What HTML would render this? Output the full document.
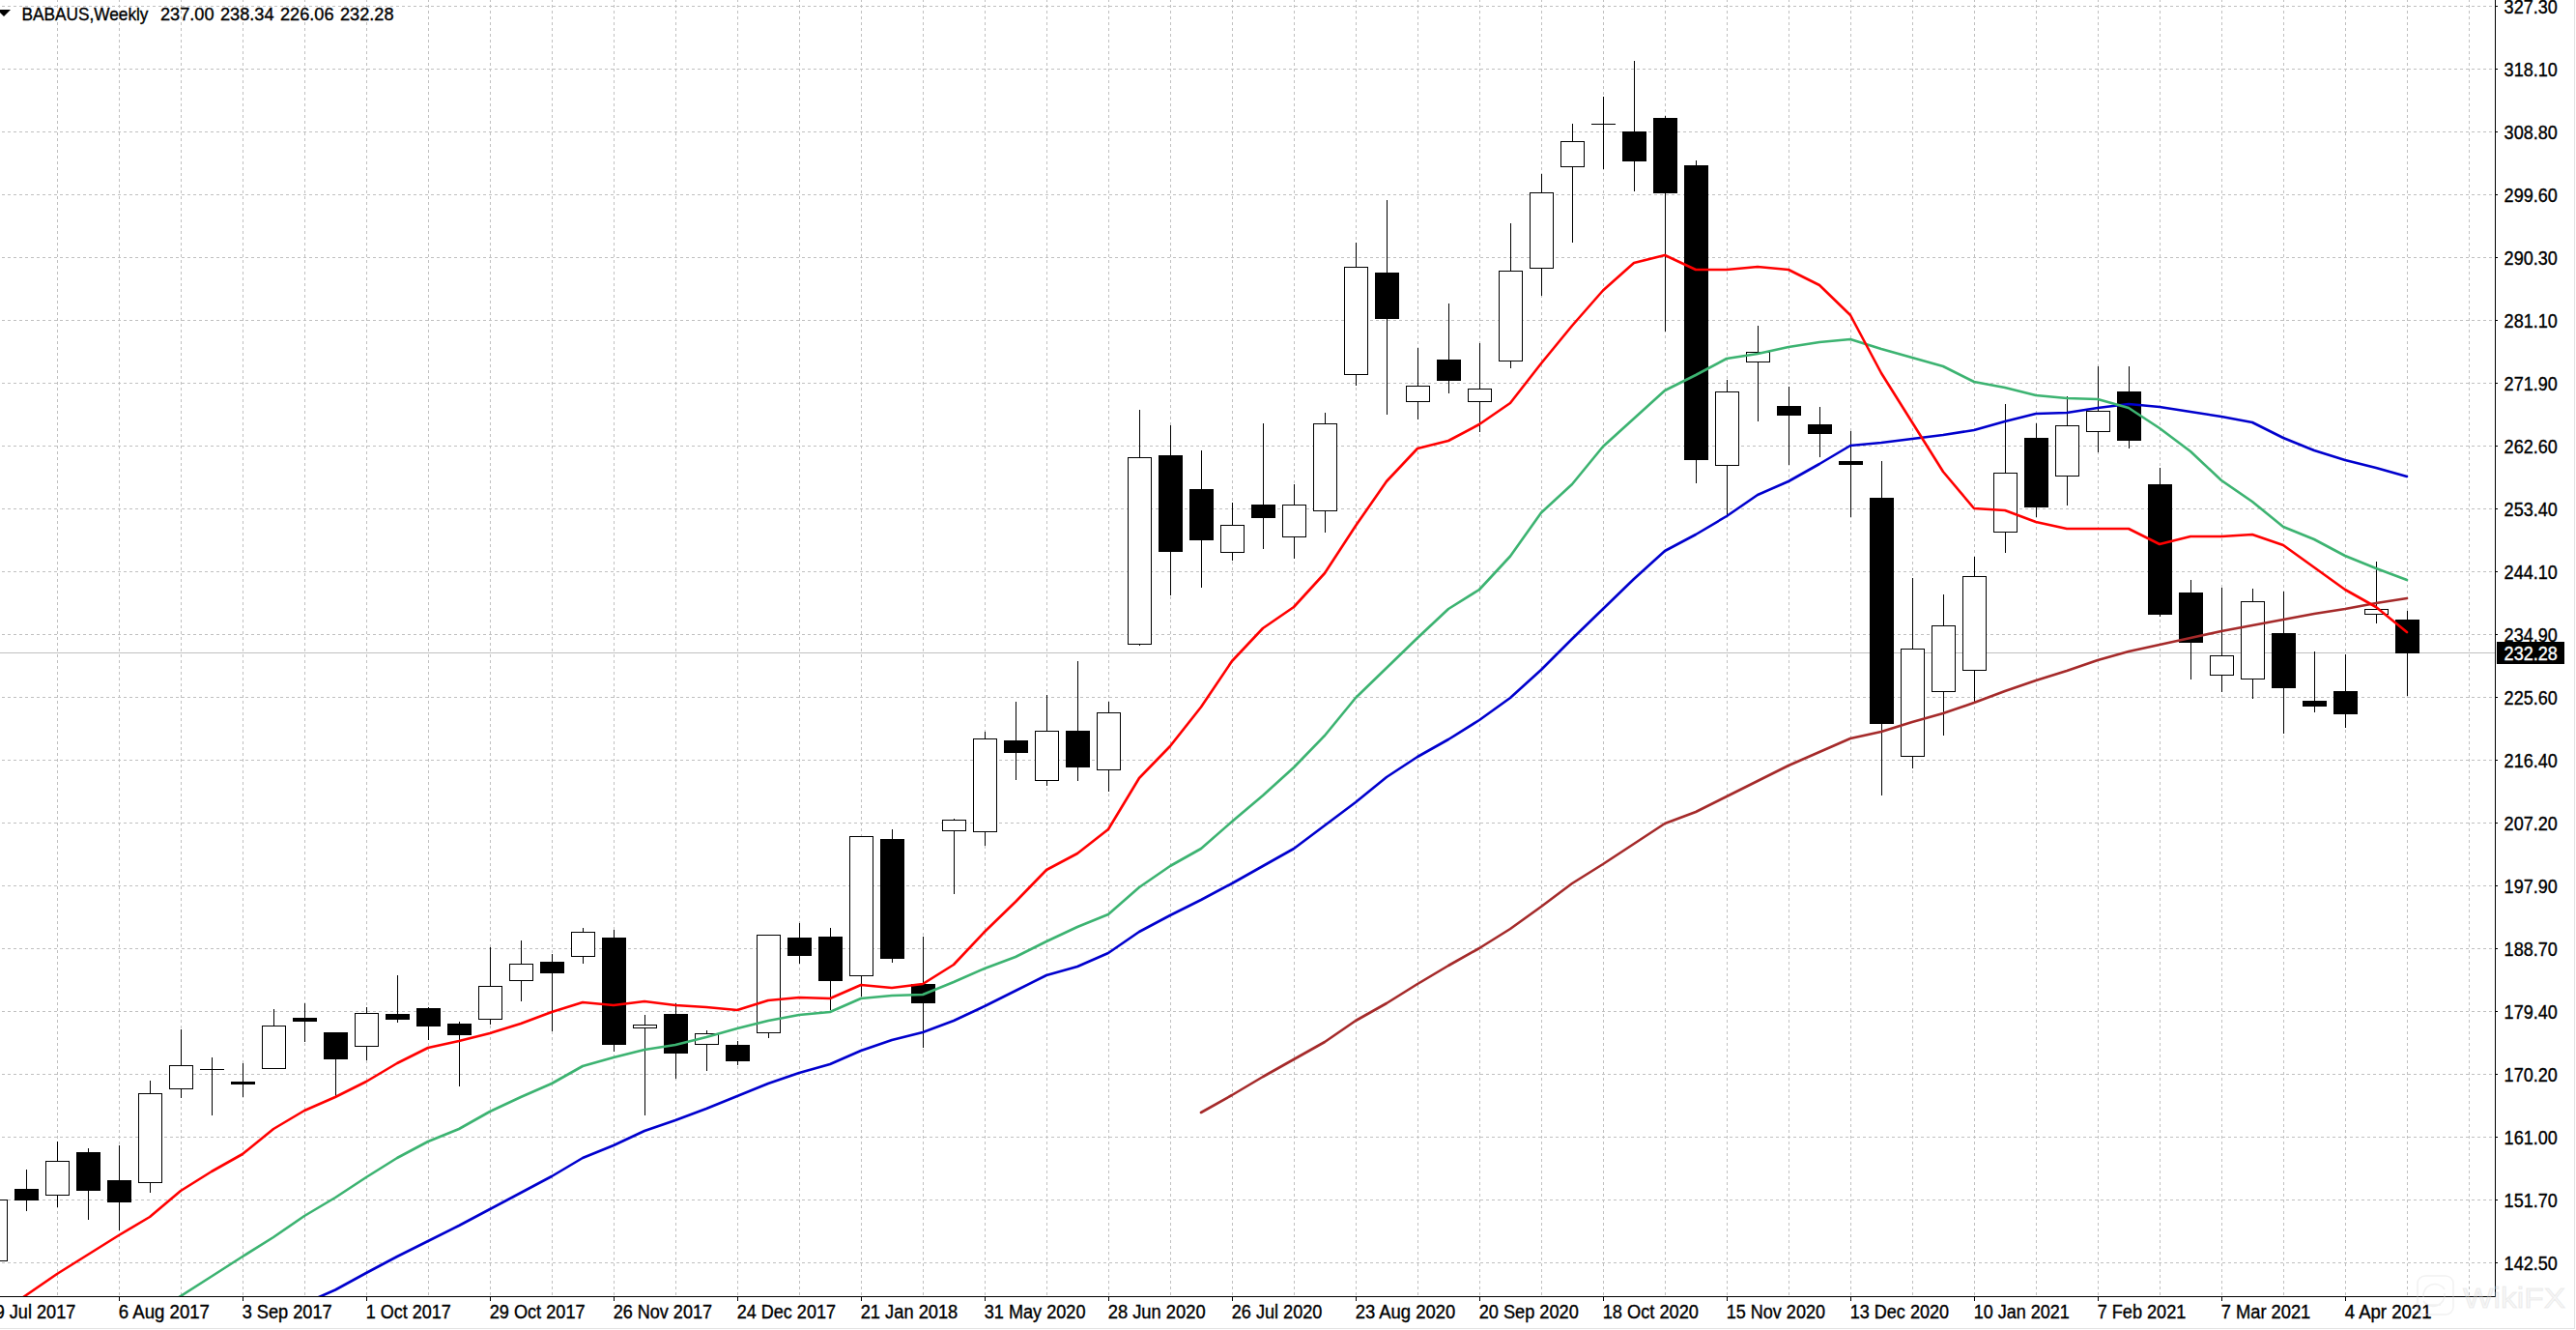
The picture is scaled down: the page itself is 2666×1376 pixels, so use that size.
<!DOCTYPE html><html><head><meta charset="utf-8"><title>BABAUS Weekly</title><style>
html,body{margin:0;padding:0;background:#fff;overflow:hidden;}
svg{display:block;}
text{font-family:"Liberation Sans", sans-serif;}
</style></head><body>
<svg width="2666" height="1376" viewBox="0 0 2666 1376">
<rect x="0" y="0" width="2666" height="1376" fill="#ffffff"/>
<path d="M59.5 -1V1341M123.5 -1V1341M187.5 -1V1341M251.5 -1V1341M315.5 -1V1341M379.5 -1V1341M443.5 -1V1341M507.5 -1V1341M571.5 -1V1341M635.5 -1V1341M699.5 -1V1341M763.5 -1V1341M827.5 -1V1341M891.5 -1V1341M955.5 -1V1341M1019.5 -1V1341M1083.5 -1V1341M1147.5 -1V1341M1211.5 -1V1341M1275.5 -1V1341M1339.5 -1V1341M1403.5 -1V1341M1467.5 -1V1341M1531.5 -1V1341M1595.5 -1V1341M1659.5 -1V1341M1723.5 -1V1341M1787.5 -1V1341M1851.5 -1V1341M1915.5 -1V1341M1979.5 -1V1341M2043.5 -1V1341M2107.5 -1V1341M2171.5 -1V1341M2235.5 -1V1341M2299.5 -1V1341M2363.5 -1V1341M2427.5 -1V1341M2491.5 -1V1341M2555.5 -1V1341" stroke="#c0c0c0" stroke-width="1" stroke-dasharray="3 3" fill="none" shape-rendering="crispEdges"/>
<path d="M2 6.5H2582M2 71.5H2582M2 136.5H2582M2 201.5H2582M2 266.5H2582M2 331.5H2582M2 396.5H2582M2 461.5H2582M2 526.5H2582M2 591.5H2582M2 656.5H2582M2 721.5H2582M2 786.5H2582M2 851.5H2582M2 916.5H2582M2 981.5H2582M2 1046.5H2582M2 1111.5H2582M2 1176.5H2582M2 1241.5H2582M2 1306.5H2582" stroke="#c0c0c0" stroke-width="1" stroke-dasharray="3 3" fill="none" shape-rendering="crispEdges"/>
<path d="M0 675.5H2582" stroke="#c0c0c0" stroke-width="1" shape-rendering="crispEdges"/>
<path d="M-4.5 1241V1305M27.5 1210V1253M59.5 1181V1249M91.5 1188V1262M123.5 1185V1273M155.5 1118V1234M187.5 1065V1136M219.5 1094V1154M251.5 1100V1135M283.5 1044V1106M315.5 1038V1078M347.5 1068V1134M379.5 1042V1097M411.5 1009V1058M443.5 1042V1076M475.5 1057V1124M507.5 980V1060M539.5 973V1036M571.5 987V1067M603.5 960V997M635.5 962V1088M667.5 1050V1154M699.5 1038V1116M731.5 1066V1108M763.5 1077V1102M795.5 967V1074M827.5 955V997M859.5 960V1045M891.5 865V1031M923.5 858V996M955.5 969V1084M987.5 847V925M1019.5 757V875M1051.5 726V807M1083.5 719V813M1115.5 684V808M1147.5 726V819M1179.5 424V668M1211.5 440V616M1243.5 466V608M1275.5 520V580M1307.5 438V568M1339.5 501V578M1371.5 427V551M1403.5 251V399M1435.5 207V429M1467.5 360V434M1499.5 314V407M1531.5 355V447M1563.5 231V381M1595.5 180V306M1627.5 128V251M1659.5 100V175M1691.5 63V198M1723.5 120V343M1755.5 166V500M1787.5 393V535M1819.5 337V436M1851.5 400V481M1883.5 421V473M1915.5 446V535M1947.5 477V823M1979.5 598V795M2011.5 615V761M2043.5 576V726M2075.5 418V572M2107.5 438V535M2139.5 410V523M2171.5 379V468M2203.5 379V464M2235.5 484V638M2267.5 600V703M2299.5 608V716M2331.5 609V723M2363.5 612V759M2395.5 674V737M2427.5 677V753M2459.5 581V645M2491.5 632V720" stroke="#000" stroke-width="1" fill="none" shape-rendering="crispEdges"/>
<g shape-rendering="crispEdges"><rect x="-16.5" y="1241.5" width="24" height="63" fill="#fff" stroke="#000" stroke-width="1"/><rect x="47.5" y="1201.5" width="24" height="35" fill="#fff" stroke="#000" stroke-width="1"/><rect x="143.5" y="1131.5" width="24" height="92" fill="#fff" stroke="#000" stroke-width="1"/><rect x="175.5" y="1102.5" width="24" height="24" fill="#fff" stroke="#000" stroke-width="1"/><path d="M207 1106.5H232" stroke="#000" stroke-width="1"/><rect x="271.5" y="1061.5" width="24" height="44" fill="#fff" stroke="#000" stroke-width="1"/><rect x="367.5" y="1048.5" width="24" height="34" fill="#fff" stroke="#000" stroke-width="1"/><rect x="495.5" y="1020.5" width="24" height="34" fill="#fff" stroke="#000" stroke-width="1"/><rect x="527.5" y="997.5" width="24" height="17" fill="#fff" stroke="#000" stroke-width="1"/><rect x="591.5" y="964.5" width="24" height="25" fill="#fff" stroke="#000" stroke-width="1"/><rect x="655.5" y="1060.5" width="24" height="3" fill="#fff" stroke="#000" stroke-width="1"/><rect x="719.5" y="1069.5" width="24" height="11" fill="#fff" stroke="#000" stroke-width="1"/><rect x="783.5" y="967.5" width="24" height="101" fill="#fff" stroke="#000" stroke-width="1"/><rect x="879.5" y="865.5" width="24" height="144" fill="#fff" stroke="#000" stroke-width="1"/><rect x="975.5" y="848.5" width="24" height="11" fill="#fff" stroke="#000" stroke-width="1"/><rect x="1007.5" y="764.5" width="24" height="96" fill="#fff" stroke="#000" stroke-width="1"/><rect x="1071.5" y="756.5" width="24" height="51" fill="#fff" stroke="#000" stroke-width="1"/><rect x="1135.5" y="737.5" width="24" height="59" fill="#fff" stroke="#000" stroke-width="1"/><rect x="1167.5" y="473.5" width="24" height="193" fill="#fff" stroke="#000" stroke-width="1"/><rect x="1263.5" y="543.5" width="24" height="28" fill="#fff" stroke="#000" stroke-width="1"/><rect x="1327.5" y="522.5" width="24" height="33" fill="#fff" stroke="#000" stroke-width="1"/><rect x="1359.5" y="438.5" width="24" height="90" fill="#fff" stroke="#000" stroke-width="1"/><rect x="1391.5" y="276.5" width="24" height="111" fill="#fff" stroke="#000" stroke-width="1"/><rect x="1455.5" y="399.5" width="24" height="16" fill="#fff" stroke="#000" stroke-width="1"/><rect x="1519.5" y="402.5" width="24" height="13" fill="#fff" stroke="#000" stroke-width="1"/><rect x="1551.5" y="280.5" width="24" height="93" fill="#fff" stroke="#000" stroke-width="1"/><rect x="1583.5" y="199.5" width="24" height="78" fill="#fff" stroke="#000" stroke-width="1"/><rect x="1615.5" y="146.5" width="24" height="26" fill="#fff" stroke="#000" stroke-width="1"/><path d="M1647 128.5H1672" stroke="#000" stroke-width="1"/><rect x="1775.5" y="405.5" width="24" height="76" fill="#fff" stroke="#000" stroke-width="1"/><rect x="1807.5" y="364.5" width="24" height="10" fill="#fff" stroke="#000" stroke-width="1"/><rect x="1967.5" y="671.5" width="24" height="111" fill="#fff" stroke="#000" stroke-width="1"/><rect x="1999.5" y="647.5" width="24" height="68" fill="#fff" stroke="#000" stroke-width="1"/><rect x="2031.5" y="596.5" width="24" height="97" fill="#fff" stroke="#000" stroke-width="1"/><rect x="2063.5" y="489.5" width="24" height="61" fill="#fff" stroke="#000" stroke-width="1"/><rect x="2127.5" y="440.5" width="24" height="52" fill="#fff" stroke="#000" stroke-width="1"/><rect x="2159.5" y="425.5" width="24" height="21" fill="#fff" stroke="#000" stroke-width="1"/><rect x="2287.5" y="678.5" width="24" height="20" fill="#fff" stroke="#000" stroke-width="1"/><rect x="2319.5" y="622.5" width="24" height="80" fill="#fff" stroke="#000" stroke-width="1"/><rect x="2447.5" y="630.5" width="24" height="5" fill="#fff" stroke="#000" stroke-width="1"/></g>
<path d="M15 1230h25v12h-25zM79 1192h25v40h-25zM111 1221h25v23h-25zM239 1119h25v3h-25zM303 1053h25v4h-25zM335 1068h25v28h-25zM399 1049h25v6h-25zM431 1043h25v19h-25zM463 1059h25v12h-25zM559 995h25v12h-25zM623 970h25v111h-25zM687 1049h25v41h-25zM751 1081h25v17h-25zM815 970h25v19h-25zM847 969h25v46h-25zM911 868h25v124h-25zM943 1018h25v20h-25zM1039 766h25v13h-25zM1103 756h25v38h-25zM1199 471h25v100h-25zM1231 506h25v53h-25zM1295 522h25v14h-25zM1423 282h25v48h-25zM1487 372h25v22h-25zM1679 136h25v31h-25zM1711 122h25v78h-25zM1743 171h25v305h-25zM1839 420h25v10h-25zM1871 439h25v10h-25zM1903 477h25v4h-25zM1935 515h25v234h-25zM2095 453h25v72h-25zM2191 405h25v51h-25zM2223 501h25v135h-25zM2255 613h25v52h-25zM2351 655h25v57h-25zM2383 725h25v6h-25zM2415 715h25v24h-25zM2479 641h25v35h-25z" fill="#000" shape-rendering="crispEdges"/>
<g clip-path="url(#plot)">
<path d="M1243 1151 L1275 1133 L1307 1114 L1339 1096 L1371 1078 L1403 1056 L1435 1038 L1467 1018 L1499 999 L1531 981 L1563 961 L1595 938 L1627 914 L1659 894 L1691 873 L1723 852 L1755 840 L1787 824 L1819 808 L1851 792 L1883 778 L1915 764 L1947 757 L1979 747 L2011 738 L2043 727 L2075 715 L2107 704 L2139 694 L2171 683 L2203 674 L2235 667 L2267 660 L2299 653 L2331 647 L2363 641 L2395 635 L2427 630 L2459 624 L2491 619" stroke="#a52a2a" stroke-width="2.6" fill="none" stroke-linejoin="round" stroke-linecap="round"/>
<path d="M322 1345.5 L347 1334.5 L379 1317 L411 1300 L443 1284 L475 1268 L507 1251 L539 1234 L571 1217 L603 1198 L635 1185 L667 1170 L699 1159 L731 1147 L763 1134 L795 1121 L827 1110 L859 1101 L891 1087 L923 1076 L955 1068 L987 1056 L1019 1041 L1051 1025 L1083 1009 L1115 1000 L1147 986 L1179 964 L1211 947 L1243 931 L1275 914 L1307 896 L1339 878 L1371 854 L1403 830 L1435 804 L1467 783 L1499 765 L1531 745 L1563 722 L1595 693 L1627 661 L1659 630 L1691 599 L1723 570 L1755 553 L1787 534 L1819 512 L1851 498 L1883 480 L1915 461 L1947 458 L1979 454 L2011 450 L2043 445 L2075 436 L2107 428 L2139 427 L2171 422 L2203 418 L2235 421 L2267 426 L2299 431 L2331 437 L2363 453 L2395 466 L2427 476 L2459 484 L2491 493" stroke="#0000cd" stroke-width="2.6" fill="none" stroke-linejoin="round" stroke-linecap="round"/>
<path d="M180 1345.4 L219 1320.5 L251 1300 L283 1280 L315 1258 L347 1239 L379 1218 L411 1198 L443 1181 L475 1168 L507 1150 L539 1135 L571 1121 L603 1103 L635 1094 L667 1086 L699 1081 L731 1073 L763 1064 L795 1056 L827 1050 L859 1047 L891 1033 L923 1030 L955 1029 L987 1016 L1019 1002 L1051 990 L1083 974 L1115 959 L1147 946 L1179 918 L1211 896 L1243 878 L1275 850 L1307 823 L1339 794 L1371 761 L1403 722 L1435 691 L1467 660 L1499 630 L1531 610 L1563 575.5 L1595 530.5 L1627 501 L1659 462 L1691 433 L1723 404 L1755 388 L1787 371 L1819 366 L1851 359 L1883 354 L1915 351 L1947 361 L1979 370 L2011 379 L2043 395 L2075 401 L2107 409 L2139 412 L2171 413 L2203 422 L2235 443 L2267 467 L2299 497 L2331 519 L2363 545 L2395 558 L2427 575 L2459 588 L2491 600" stroke="#3cb371" stroke-width="2.6" fill="none" stroke-linejoin="round" stroke-linecap="round"/>
<path d="M20 1345 L27 1340 L59 1318 L91 1298 L123 1278 L155 1259 L187 1232 L219 1212 L251 1194 L283 1168 L315 1149 L347 1135 L379 1119 L411 1100 L443 1084 L475 1077 L507 1069 L539 1059 L571 1047 L603 1037 L635 1040 L667 1036 L699 1040 L731 1042 L763 1045 L795 1035 L827 1032 L859 1033 L891 1019 L923 1022 L955 1018 L987 998 L1019 964 L1051 933 L1083 900 L1115 883 L1147 858 L1179 805 L1211 772 L1243 731.5 L1275 684 L1307 650 L1339 628 L1371 593 L1403 544 L1435 498 L1467 464 L1499 456 L1531 439 L1563 417 L1595 376 L1627 337 L1659 300.5 L1691 272 L1723 264 L1755 279 L1787 279 L1819 276 L1851 279 L1883 295 L1915 326 L1947 386 L1979 437 L2011 488 L2043 526 L2075 528 L2107 540 L2139 547 L2171 547 L2203 547 L2235 563 L2267 555 L2299 555 L2331 553 L2363 564 L2395 587 L2427 610 L2459 628 L2491 654" stroke="#ff0000" stroke-width="2.6" fill="none" stroke-linejoin="round" stroke-linecap="round"/>
</g>
<defs><clipPath id="plot"><rect x="0" y="0" width="2582" height="1341"/></clipPath></defs>
<path d="M0 1341.5H2582.5M2582.5 0V1342" stroke="#000" stroke-width="1" fill="none" shape-rendering="crispEdges"/>
<path d="M2582 6.5H2585M2582 71.5H2585M2582 136.5H2585M2582 201.5H2585M2582 266.5H2585M2582 331.5H2585M2582 396.5H2585M2582 461.5H2585M2582 526.5H2585M2582 591.5H2585M2582 656.5H2585M2582 721.5H2585M2582 786.5H2585M2582 851.5H2585M2582 916.5H2585M2582 981.5H2585M2582 1046.5H2585M2582 1111.5H2585M2582 1176.5H2585M2582 1241.5H2585M2582 1306.5H2585M-4.5 1341V1346M123.5 1341V1346M251.5 1341V1346M379.5 1341V1346M507.5 1341V1346M635.5 1341V1346M763.5 1341V1346M891.5 1341V1346M1019.5 1341V1346M1147.5 1341V1346M1275.5 1341V1346M1403.5 1341V1346M1531.5 1341V1346M1659.5 1341V1346M1787.5 1341V1346M1915.5 1341V1346M2043.5 1341V1346M2171.5 1341V1346M2299.5 1341V1346M2427.5 1341V1346" stroke="#000" stroke-width="1" fill="none" shape-rendering="crispEdges"/>
<text x="2591.6" y="13.9" font-size="19.5" textLength="55.2" lengthAdjust="spacingAndGlyphs" fill="#000" stroke="#000" stroke-width="0.35">327.30</text>
<text x="2591.6" y="78.9" font-size="19.5" textLength="55.2" lengthAdjust="spacingAndGlyphs" fill="#000" stroke="#000" stroke-width="0.35">318.10</text>
<text x="2591.6" y="143.9" font-size="19.5" textLength="55.2" lengthAdjust="spacingAndGlyphs" fill="#000" stroke="#000" stroke-width="0.35">308.80</text>
<text x="2591.6" y="208.9" font-size="19.5" textLength="55.2" lengthAdjust="spacingAndGlyphs" fill="#000" stroke="#000" stroke-width="0.35">299.60</text>
<text x="2591.6" y="273.9" font-size="19.5" textLength="55.2" lengthAdjust="spacingAndGlyphs" fill="#000" stroke="#000" stroke-width="0.35">290.30</text>
<text x="2591.6" y="338.9" font-size="19.5" textLength="55.2" lengthAdjust="spacingAndGlyphs" fill="#000" stroke="#000" stroke-width="0.35">281.10</text>
<text x="2591.6" y="403.9" font-size="19.5" textLength="55.2" lengthAdjust="spacingAndGlyphs" fill="#000" stroke="#000" stroke-width="0.35">271.90</text>
<text x="2591.6" y="468.9" font-size="19.5" textLength="55.2" lengthAdjust="spacingAndGlyphs" fill="#000" stroke="#000" stroke-width="0.35">262.60</text>
<text x="2591.6" y="533.9" font-size="19.5" textLength="55.2" lengthAdjust="spacingAndGlyphs" fill="#000" stroke="#000" stroke-width="0.35">253.40</text>
<text x="2591.6" y="598.9" font-size="19.5" textLength="55.2" lengthAdjust="spacingAndGlyphs" fill="#000" stroke="#000" stroke-width="0.35">244.10</text>
<text x="2591.6" y="663.9" font-size="19.5" textLength="55.2" lengthAdjust="spacingAndGlyphs" fill="#000" stroke="#000" stroke-width="0.35">234.90</text>
<text x="2591.6" y="728.9" font-size="19.5" textLength="55.2" lengthAdjust="spacingAndGlyphs" fill="#000" stroke="#000" stroke-width="0.35">225.60</text>
<text x="2591.6" y="793.9" font-size="19.5" textLength="55.2" lengthAdjust="spacingAndGlyphs" fill="#000" stroke="#000" stroke-width="0.35">216.40</text>
<text x="2591.6" y="858.9" font-size="19.5" textLength="55.2" lengthAdjust="spacingAndGlyphs" fill="#000" stroke="#000" stroke-width="0.35">207.20</text>
<text x="2591.6" y="923.9" font-size="19.5" textLength="55.2" lengthAdjust="spacingAndGlyphs" fill="#000" stroke="#000" stroke-width="0.35">197.90</text>
<text x="2591.6" y="988.9" font-size="19.5" textLength="55.2" lengthAdjust="spacingAndGlyphs" fill="#000" stroke="#000" stroke-width="0.35">188.70</text>
<text x="2591.6" y="1053.9" font-size="19.5" textLength="55.2" lengthAdjust="spacingAndGlyphs" fill="#000" stroke="#000" stroke-width="0.35">179.40</text>
<text x="2591.6" y="1118.9" font-size="19.5" textLength="55.2" lengthAdjust="spacingAndGlyphs" fill="#000" stroke="#000" stroke-width="0.35">170.20</text>
<text x="2591.6" y="1183.9" font-size="19.5" textLength="55.2" lengthAdjust="spacingAndGlyphs" fill="#000" stroke="#000" stroke-width="0.35">161.00</text>
<text x="2591.6" y="1248.9" font-size="19.5" textLength="55.2" lengthAdjust="spacingAndGlyphs" fill="#000" stroke="#000" stroke-width="0.35">151.70</text>
<text x="2591.6" y="1313.9" font-size="19.5" textLength="55.2" lengthAdjust="spacingAndGlyphs" fill="#000" stroke="#000" stroke-width="0.35">142.50</text>
<rect x="2584" y="664" width="70" height="23" fill="#000"/>
<text x="2591.6" y="683" font-size="19.5" textLength="55.2" lengthAdjust="spacingAndGlyphs" fill="#fff" stroke="#fff" stroke-width="0.35">232.28</text>
<text x="-5.3" y="1364.3" font-size="19.5" textLength="83.6" lengthAdjust="spacingAndGlyphs" fill="#000" stroke="#000" stroke-width="0.35">9 Jul 2017</text>
<text x="122.7" y="1364.3" font-size="19.5" textLength="94.3" lengthAdjust="spacingAndGlyphs" fill="#000" stroke="#000" stroke-width="0.35">6 Aug 2017</text>
<text x="250.7" y="1364.3" font-size="19.5" textLength="93.0" lengthAdjust="spacingAndGlyphs" fill="#000" stroke="#000" stroke-width="0.35">3 Sep 2017</text>
<text x="378.7" y="1364.3" font-size="19.5" textLength="88.1" lengthAdjust="spacingAndGlyphs" fill="#000" stroke="#000" stroke-width="0.35">1 Oct 2017</text>
<text x="506.7" y="1364.3" font-size="19.5" textLength="98.9" lengthAdjust="spacingAndGlyphs" fill="#000" stroke="#000" stroke-width="0.35">29 Oct 2017</text>
<text x="634.7" y="1364.3" font-size="19.5" textLength="102.3" lengthAdjust="spacingAndGlyphs" fill="#000" stroke="#000" stroke-width="0.35">26 Nov 2017</text>
<text x="762.7" y="1364.3" font-size="19.5" textLength="102.3" lengthAdjust="spacingAndGlyphs" fill="#000" stroke="#000" stroke-width="0.35">24 Dec 2017</text>
<text x="890.7" y="1364.3" font-size="19.5" textLength="100.6" lengthAdjust="spacingAndGlyphs" fill="#000" stroke="#000" stroke-width="0.35">21 Jan 2018</text>
<text x="1018.7" y="1364.3" font-size="19.5" textLength="104.8" lengthAdjust="spacingAndGlyphs" fill="#000" stroke="#000" stroke-width="0.35">31 May 2020</text>
<text x="1146.7" y="1364.3" font-size="19.5" textLength="101.0" lengthAdjust="spacingAndGlyphs" fill="#000" stroke="#000" stroke-width="0.35">28 Jun 2020</text>
<text x="1274.7" y="1364.3" font-size="19.5" textLength="93.7" lengthAdjust="spacingAndGlyphs" fill="#000" stroke="#000" stroke-width="0.35">26 Jul 2020</text>
<text x="1402.7" y="1364.3" font-size="19.5" textLength="103.5" lengthAdjust="spacingAndGlyphs" fill="#000" stroke="#000" stroke-width="0.35">23 Aug 2020</text>
<text x="1530.7" y="1364.3" font-size="19.5" textLength="103.1" lengthAdjust="spacingAndGlyphs" fill="#000" stroke="#000" stroke-width="0.35">20 Sep 2020</text>
<text x="1658.7" y="1364.3" font-size="19.5" textLength="99.2" lengthAdjust="spacingAndGlyphs" fill="#000" stroke="#000" stroke-width="0.35">18 Oct 2020</text>
<text x="1786.7" y="1364.3" font-size="19.5" textLength="102.3" lengthAdjust="spacingAndGlyphs" fill="#000" stroke="#000" stroke-width="0.35">15 Nov 2020</text>
<text x="1914.7" y="1364.3" font-size="19.5" textLength="102.4" lengthAdjust="spacingAndGlyphs" fill="#000" stroke="#000" stroke-width="0.35">13 Dec 2020</text>
<text x="2042.7" y="1364.3" font-size="19.5" textLength="99.2" lengthAdjust="spacingAndGlyphs" fill="#000" stroke="#000" stroke-width="0.35">10 Jan 2021</text>
<text x="2170.7" y="1364.3" font-size="19.5" textLength="91.6" lengthAdjust="spacingAndGlyphs" fill="#000" stroke="#000" stroke-width="0.35">7 Feb 2021</text>
<text x="2298.7" y="1364.3" font-size="19.5" textLength="92.6" lengthAdjust="spacingAndGlyphs" fill="#000" stroke="#000" stroke-width="0.35">7 Mar 2021</text>
<text x="2426.7" y="1364.3" font-size="19.5" textLength="89.8" lengthAdjust="spacingAndGlyphs" fill="#000" stroke="#000" stroke-width="0.35">4 Apr 2021</text>
<path d="M-3 10H11L4 17Z" fill="#000"/>
<text x="22.5" y="21.1" font-size="19" textLength="131" lengthAdjust="spacingAndGlyphs" fill="#000" stroke="#000" stroke-width="0.35">BABAUS,Weekly</text>
<text x="166" y="21.1" font-size="19" textLength="55.5" lengthAdjust="spacingAndGlyphs" fill="#000" stroke="#000" stroke-width="0.35">237.00</text>
<text x="228" y="21.1" font-size="19" textLength="55.5" lengthAdjust="spacingAndGlyphs" fill="#000" stroke="#000" stroke-width="0.35">238.34</text>
<text x="290" y="21.1" font-size="19" textLength="55.5" lengthAdjust="spacingAndGlyphs" fill="#000" stroke="#000" stroke-width="0.35">226.06</text>
<text x="352" y="21.1" font-size="19" textLength="55.5" lengthAdjust="spacingAndGlyphs" fill="#000" stroke="#000" stroke-width="0.35">232.28</text>
<path d="M0 1374.5H2664.5V0" stroke="#e2e2e2" stroke-width="1" fill="none" shape-rendering="crispEdges"/>
<g fill="none" stroke="#d8d8d8" stroke-opacity="0.35" stroke-width="1.5">
<rect x="2502" y="1320" width="37" height="40" rx="8"/>
<path d="M2508 1342a12 12 0 0 1 22-8M2530 1338a12 12 0 0 1-22 8M2512 1350h14"/>
</g>
<text x="2549" y="1353" font-size="30" fill="#e0e0e0" fill-opacity="0.25" stroke="#d0d0d0" stroke-opacity="0.35" stroke-width="1" textLength="106" lengthAdjust="spacingAndGlyphs">WikiFX</text>
</svg></body></html>
